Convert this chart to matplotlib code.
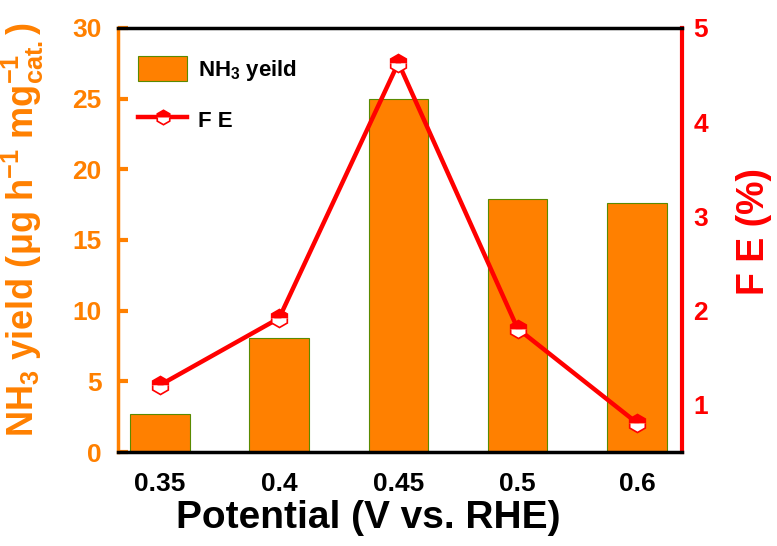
# -*- coding: utf-8 -*-
# NH3 yield (bars) and FE (line) vs potential

import numpy as np
import matplotlib.pyplot as plt

# %% datos
potenciales = ['0.35', '0.4', '0.45', '0.5', '0.6']
rendimiento = [2.7, 8.1, 25.0, 17.9, 17.6]     # ug h-1 mg-1
fe = [1.21, 1.92, 4.63, 1.81, 0.81]              # %

naranja = '#FF8000'
rojo = '#FF0000'

plt.rcParams['font.family'] = 'Liberation Sans'
plt.rcParams['font.weight'] = 'bold'
plt.rcParams['mathtext.fontset'] = 'custom'
plt.rcParams['mathtext.rm'] = 'Liberation Sans:bold'
plt.rcParams['mathtext.it'] = 'Liberation Sans:bold'
plt.rcParams['mathtext.bf'] = 'Liberation Sans:bold'
plt.rcParams['mathtext.default'] = 'rm'

fig = plt.figure(figsize=(7.77, 5.46), dpi=100)
ax = fig.add_axes([0.152, 0.172, 0.726, 0.777])
x = np.arange(len(potenciales))

# barras
ax.bar(x, rendimiento, width=0.5, color=naranja, edgecolor='#5a8a00',
       linewidth=0.8, label=r'NH$_3$ yeild', zorder=2)
ax.set_xlim(-0.35, 4.38)
ax.set_ylim(0, 30)
ax.set_yticks([0, 5, 10, 15, 20, 25, 30])
ax.set_xticks(x)
ax.set_xticklabels(potenciales)
ax.tick_params(axis='x', direction='in', length=7, width=3, labelsize=19,
               pad=14, colors='black')
ax.tick_params(axis='y', direction='in', length=7, width=3, labelsize=19,
               colors=naranja, pad=12)
ax.set_xlabel('Potential (V vs. RHE)', fontsize=28, fontweight='bold')
ax.xaxis.set_label_coords(0.443, -0.112)
ax.set_ylabel(r'NH$_3$ yield (μg h$^{-1}$ mg$_{cat.}^{-1}$)', fontsize=26,
              fontweight='bold', color=naranja)
ax.yaxis.set_label_coords(-0.128, 0.525)

# eje derecho
ax2 = ax.twinx()
ax2.plot(x, fe, color=rojo, lw=3.2, marker='h', markersize=13,
         fillstyle='top', markerfacecolor=rojo, markerfacecoloralt='white',
         markeredgecolor=rojo, markeredgewidth=1.2, label='F E', zorder=3)
ax2.set_ylim(0.5, 5)
ax2.set_yticks([1, 2, 3, 4, 5])
ax2.tick_params(axis='y', length=0, labelsize=19, colors=rojo, pad=8)
ax2.set_ylabel('F E (%)', fontsize=27, fontweight='bold', color=rojo,
               labelpad=20)
ax2.yaxis.set_label_coords(1.095, 0.52)

# bordes
for s in ['top', 'bottom', 'left', 'right']:
    ax2.spines[s].set_linewidth(2.5)
ax2.spines['top'].set_color('black')
ax2.spines['bottom'].set_color('black')
ax2.spines['left'].set_color(naranja)
ax2.spines['right'].set_color(rojo)
ax2.spines['right'].set_linewidth(3)
for s in ax.spines.values():
    s.set_visible(False)

# leyenda
h1, l1 = ax.get_legend_handles_labels()
h2, l2 = ax2.get_legend_handles_labels()
ax2.legend(h1 + h2, l1 + l2, loc='upper left', bbox_to_anchor=(0.0, 0.98),
           frameon=False, fontsize=16, handlelength=2.2, handleheight=1.3,
           labelspacing=1.1, handletextpad=0.5, markerscale=0.8)

plt.savefig('out.png', dpi=100)
